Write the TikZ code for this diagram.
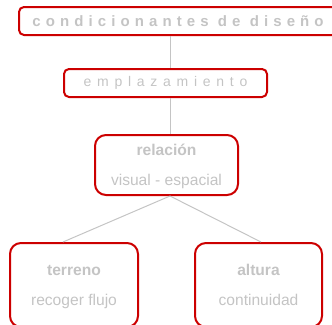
\documentclass[tikz,border=0pt]{standalone}
\usepackage{fontspec}
\setmainfont{Liberation Sans}
\newfontfamily\spacedtop[LetterSpace=34]{Liberation Sans}
\newfontfamily\spacedsub[LetterSpace=41]{Liberation Sans}
\newcommand{\topstrut}{\rule{0pt}{16.5pt}}
\definecolor{boxred}{HTML}{CC0000}
\definecolor{txtgray}{HTML}{C4C4C4}
\tikzset{
  box/.style={draw=boxred, line width=2pt, rounded corners=5pt, inner sep=0pt, text=txtgray},
  bigbox/.style={box, rounded corners=11pt, align=center, font=\fontsize{15.6}{18}\selectfont},
  link/.style={draw=txtgray, line width=1pt}
}
\begin{document}
\begin{tikzpicture}[x=1pt,y=-1pt]
  \useasboundingbox (0,0) rectangle (332,324);
  \clip (0,0) rectangle (332,324);

  % heading boxes
  \node[box, minimum width=318pt, minimum height=28pt,
        font=\spacedtop\bfseries\fontsize{15}{16}\selectfont] (cond) at (178,21) {condicionantes de diseño};
  \node[box, minimum width=203pt, minimum height=28pt,
        font=\spacedsub\fontsize{14}{15}\selectfont] (emp) at (165.5,83) {emplazamiento};

  % boxes with two lines
  \node[bigbox, minimum width=143pt, minimum height=60pt] (rel) at (166.5,165)
        {\topstrut\bfseries relación\\[12pt]\strut visual - espacial};
  \node[bigbox, minimum width=128pt, minimum height=84pt] (terreno) at (74,285)
        {\topstrut\bfseries terreno\\[12pt]\strut recoger flujo};
  \node[bigbox, minimum width=127pt, minimum height=84pt] (altura) at (258.5,285)
        {\topstrut\bfseries altura\\[12pt]\strut continuidad};

  % connectors
  \coordinate (spine) at (170,0);
  \draw[link] (spine |- cond.south) -- (spine |- emp.north);
  \draw[link] (spine |- emp.south) -- (spine |- rel.north);
  \draw[link] (spine |- rel.south) -- ([xshift=-11pt]terreno.north);
  \draw[link] (spine |- rel.south) -- ([xshift=2.5pt]altura.north);
\end{tikzpicture}
\end{document}
